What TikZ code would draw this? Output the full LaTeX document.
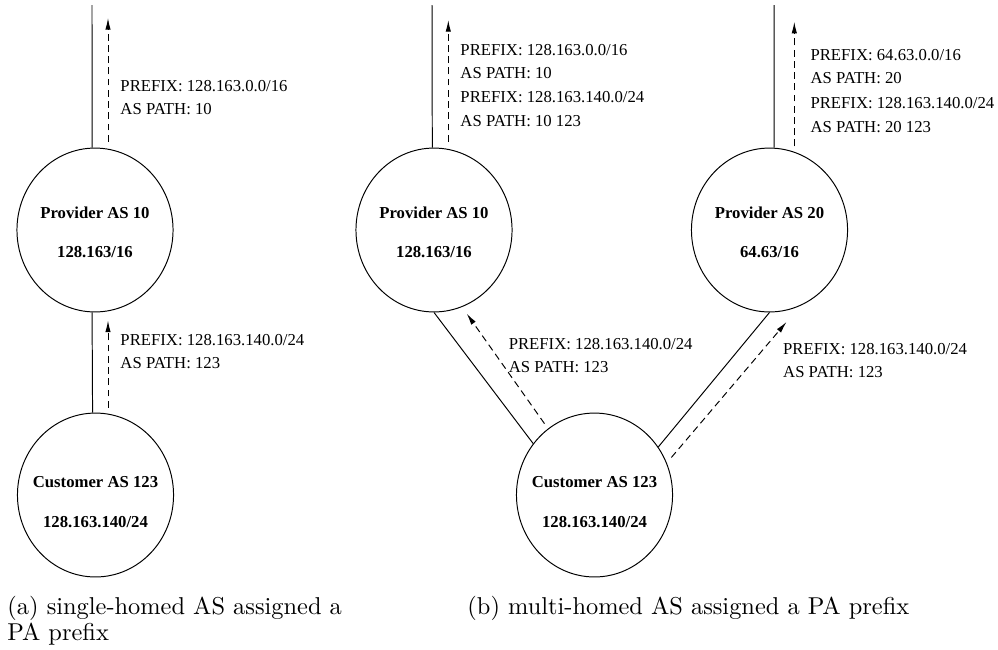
\documentclass[tikz,border=0pt]{standalone}
\usepackage{fontspec}
\newfontfamily\asfont{Liberation Serif}
\usetikzlibrary{shapes.geometric,arrows.meta,calc}

\tikzset{
  asnode/.style={draw, ellipse, minimum width=64pt, minimum height=67.2pt, inner sep=0pt},
  astext/.style={font=\asfont\bfseries\fontsize{6.85}{16}\selectfont, align=center, inner sep=0pt},
  route/.style={font=\asfont\fontsize{6.85}{9.5}\selectfont, align=left, anchor=base west, inner sep=0pt},
  adv/.style={dash pattern=on 2.8pt off 1.8pt, -{Latex[length=4.8pt,width=2.2pt]}},
  subcap/.style={font=\fontsize{10}{10.8}\selectfont, align=left, anchor=base west, inner sep=0pt}
}

\begin{document}
\begin{tikzpicture}[x=0.41pt,y=-0.41pt,thin]
  \useasboundingbox (0,0) rectangle (998,649);
  % (a) single-homed AS
  \node[asnode, label={[astext,yshift=-0.8pt]center:Provider AS 10\\128.163/16}] (pa) at (95,230) {};
  \node[asnode, label={[astext,yshift=-2.9pt]center:Customer AS 123\\128.163.140/24}] (ca) at (95.5,495) {};
  \coordinate (upa) at (92,5);
  \coordinate (tipa) at (108,18);
  \draw (upa) -- ([xshift=-1.2pt]pa.north);
  \draw[adv] ($(pa.north)+(13,-6)$) -- (tipa);
  \draw ([xshift=-1.2pt]ca.north) -- ([xshift=-1.2pt]pa.south);
  \draw[adv] ($(ca.north)+(12.5,-5)$) -- ($(pa.south)+(13,8)$);
  % labels sit on the baseline of their last line
  \node[route] (ra1) at (120,114.3) {PREFIX: 128.163.0.0/16\\AS PATH: 10};
  \node[route] (ra2) at (120,368.3) {PREFIX: 128.163.140.0/24\\AS PATH: 123};
  % (b) multi-homed AS
  \node[asnode, label={[astext,yshift=-0.8pt]center:Provider AS 10\\128.163/16}] (pb10) at (434,230) {};
  \node[asnode, label={[astext,yshift=-0.8pt]center:Provider AS 20\\64.63/16}] (pb20) at (769.5,230) {};
  \node[asnode, label={[astext,yshift=-2.9pt]center:Customer AS 123\\128.163.140/24}] (cb) at (594.5,495) {};
  \coordinate (upb10) at (432,5);
  \coordinate (tipb10) at (448.3,20);
  \coordinate (upb20) at (774,5);
  \coordinate (tipb20) at (794.3,21.7);
  \draw (upb10) -- ([xshift=-0.7pt]pb10.north);
  \draw[adv] ($(pb10.north)+(14.3,-6)$) -- (tipb10);
  \draw (upb20) -- ([xshift=1.9pt]pb20.north);
  \draw[adv] ($(pb20.north)+(24.8,-1.3)$) -- (tipb20);
  \draw (cb.140) -- (pb10.south);
  \draw[adv, shorten <=2.5pt, shorten >=3.3pt] (cb.125) -- (pb10.-70);
  \draw (cb.37) -- (pb20.south);
  \draw[adv, shorten <=2.9pt, shorten >=8.6pt] (cb.24) -- (pb20.-68);
  \node[route] (rb1) at (460,78.3) {PREFIX: 128.163.0.0/16\\AS PATH: 10};
  \node[route] (rb2) at (460,126) {PREFIX: 128.163.140.0/24\\AS PATH: 10 123};
  \node[route] (rb3) at (810,83.3) {PREFIX: 64.63.0.0/16\\AS PATH: 20};
  \node[route] (rb4) at (810,132) {PREFIX: 128.163.140.0/24\\AS PATH: 20 123};
  \node[route] (rb5) at (508.3,372.7) {PREFIX: 128.163.140.0/24\\AS PATH: 123};
  \node[route] (rb6) at (782.7,377.3) {PREFIX: 128.163.140.0/24\\AS PATH: 123};
  % captions
  \node[subcap] (capa) at (7,640.7) {(a) single-homed AS assigned a\\PA prefix};
  \node[subcap] (capb) at (467,614.3) {(b) multi-homed AS assigned a PA prefix};
\end{tikzpicture}
\end{document}
